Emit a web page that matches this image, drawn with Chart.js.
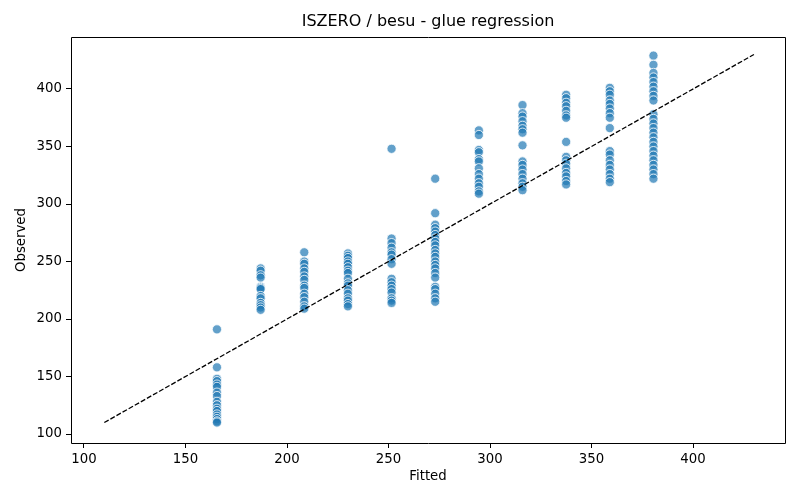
<!DOCTYPE html>
<html>
<head>
<meta charset="utf-8">
<script src="https://cdn.jsdelivr.net/npm/chart.js@4.4.1/dist/chart.umd.min.js"></script>
<style>
  html, body { margin: 0; padding: 0; background: #fff; }
  canvas { display: block; }
</style>
</head>
<body>
<canvas id="glueChart" width="800" height="500"></canvas>
<script>
const fittedLevels = [165.5, 187, 208.5, 230, 251.5, 273, 294.5, 316, 337.5, 359, 380.5];
const obs166 = [191, 158, 148, 146, 143, 141, 136, 133, 128, 125, 122, 120, 117, 115, 113, 111, 110];
const obs187 = [244, 242, 238, 236, 228, 227, 226, 220, 218, 214, 212, 210, 208];
const obs209 = [258, 250, 248, 244, 241, 237, 234, 229, 227, 222, 219, 215, 211, 209];
const obs230 = [257, 255, 253, 250, 248, 245, 242, 240, 235, 231, 229, 225, 222, 218, 216, 213, 211];
const obs252 = [348, 270, 266, 262, 258, 256, 252, 248, 235, 232, 229, 226, 223, 218, 216, 214];
const obs273 = [322, 292, 282, 279, 276, 273, 270, 267, 264, 260, 257, 254, 250, 247, 244, 240, 236, 228, 226, 222, 218, 215];
const obs295 = [364, 360, 347, 345, 339, 337, 331, 326, 322, 318, 315, 311, 309];
const obs316 = [386, 379, 376, 372, 368, 365, 362, 351, 337, 334, 330, 326, 322, 318, 315, 312];
const obs338 = [395, 392, 388, 385, 381, 377, 375, 354, 341, 338, 335, 331, 327, 324, 320, 317];
const obs359 = [401, 398, 395, 390, 387, 383, 379, 375, 366, 346, 343, 338, 334, 330, 326, 322, 319];
const obs381 = [429, 421, 414, 410, 406, 402, 398, 394, 390, 378, 374, 370, 366, 362, 358, 354, 350, 346, 342, 338, 334, 330, 326, 322];
const observedByLevel = [obs166, obs187, obs209, obs230, obs252, obs273, obs295, obs316, obs338, obs359, obs381];
const identityEnds = [110, 430];
const xTicks = [100, 150, 200, 250, 300, 350, 400];
const yTicks = [100, 150, 200, 250, 300, 350, 400];

const FONT = "'DejaVu Sans', sans-serif";

var points = [];
fittedLevels.forEach(function (fx, i) {
  observedByLevel[i].forEach(function (v) {
    points.push({ x: fx, y: v });
  });
});

// axes frame (all four spines) + title over the plot area, matplotlib style
const framePlugin = {
  id: 'frame',
  afterDraw: function (chart) {
    const a = chart.chartArea;
    const c = chart.ctx;
    const l = Math.round(a.left) + 0.5, r = Math.round(a.right) + 0.5;
    const t = Math.round(a.top) + 0.5, b = Math.round(a.bottom) + 0.5;
    c.save();
    c.strokeStyle = '#000';
    c.lineWidth = 1;
    c.beginPath();
    c.moveTo(l, t); c.lineTo(r, t); c.lineTo(r, b); c.lineTo(l, b); c.closePath();
    c.stroke();
    c.fillStyle = '#000';
    c.font = '16px ' + FONT;
    c.textAlign = 'center';
    c.textBaseline = 'middle';
    c.fillText('ISZERO / besu - glue regression', (a.left + a.right) / 2, 22);
    c.restore();
  }
};

var ctx = document.getElementById('glueChart').getContext('2d');
new Chart(ctx, {
  type: 'scatter',
  data: {
    datasets: [{
      label: 'identity',
      data: [{ x: identityEnds[0], y: identityEnds[0] }, { x: identityEnds[1], y: identityEnds[1] }],
      showLine: true,
      borderColor: '#000',
      borderWidth: 1.3,
      borderDash: [5, 2],
      pointRadius: 0,
      order: 0
    }, {
      label: 'observed',
      data: points,
      backgroundColor: 'rgba(31, 119, 180, 0.7)',
      borderColor: '#fff',
      borderWidth: 0.8,
      pointRadius: 4.6,
      order: 1
    }]
  },
  options: {
    responsive: false,
    animation: false,
    devicePixelRatio: 1,
    layout: { padding: { top: 37, right: 15, left: 0, bottom: 0 } },
    plugins: {
      legend: { display: false },
      tooltip: { enabled: false }
    },
    scales: {
      x: {
        type: 'linear',
        min: 93.6,
        max: 445.3,
        afterFit: function (scale) { scale.height = 57; },
        afterBuildTicks: function (scale) { scale.ticks = xTicks.map(function (v) { return { value: v }; }); },
        grid: { drawOnChartArea: false, tickLength: 5, tickColor: '#000' },
        border: { display: false },
        ticks: { color: '#000', padding: 4, font: { family: FONT, size: 13.3 }, maxRotation: 0 },
        title: { display: true, text: 'Fitted', color: '#000', font: { family: FONT, size: 13.3 }, padding: { top: 0, bottom: 15 } }
      },
      y: {
        type: 'linear',
        min: 92.2,
        max: 445.2,
        afterFit: function (scale) { scale.width = 71; },
        afterBuildTicks: function (scale) { scale.ticks = yTicks.map(function (v) { return { value: v }; }); },
        grid: { drawOnChartArea: false, tickLength: 5, tickColor: '#000' },
        border: { display: false },
        ticks: { color: '#000', padding: 4, font: { family: FONT, size: 13.3 } },
        title: { display: true, text: 'Observed', color: '#000', font: { family: FONT, size: 13.3 }, padding: { top: 14, bottom: 0 } }
      }
    }
  },
  plugins: [framePlugin]
});
</script>
</body>
</html>
